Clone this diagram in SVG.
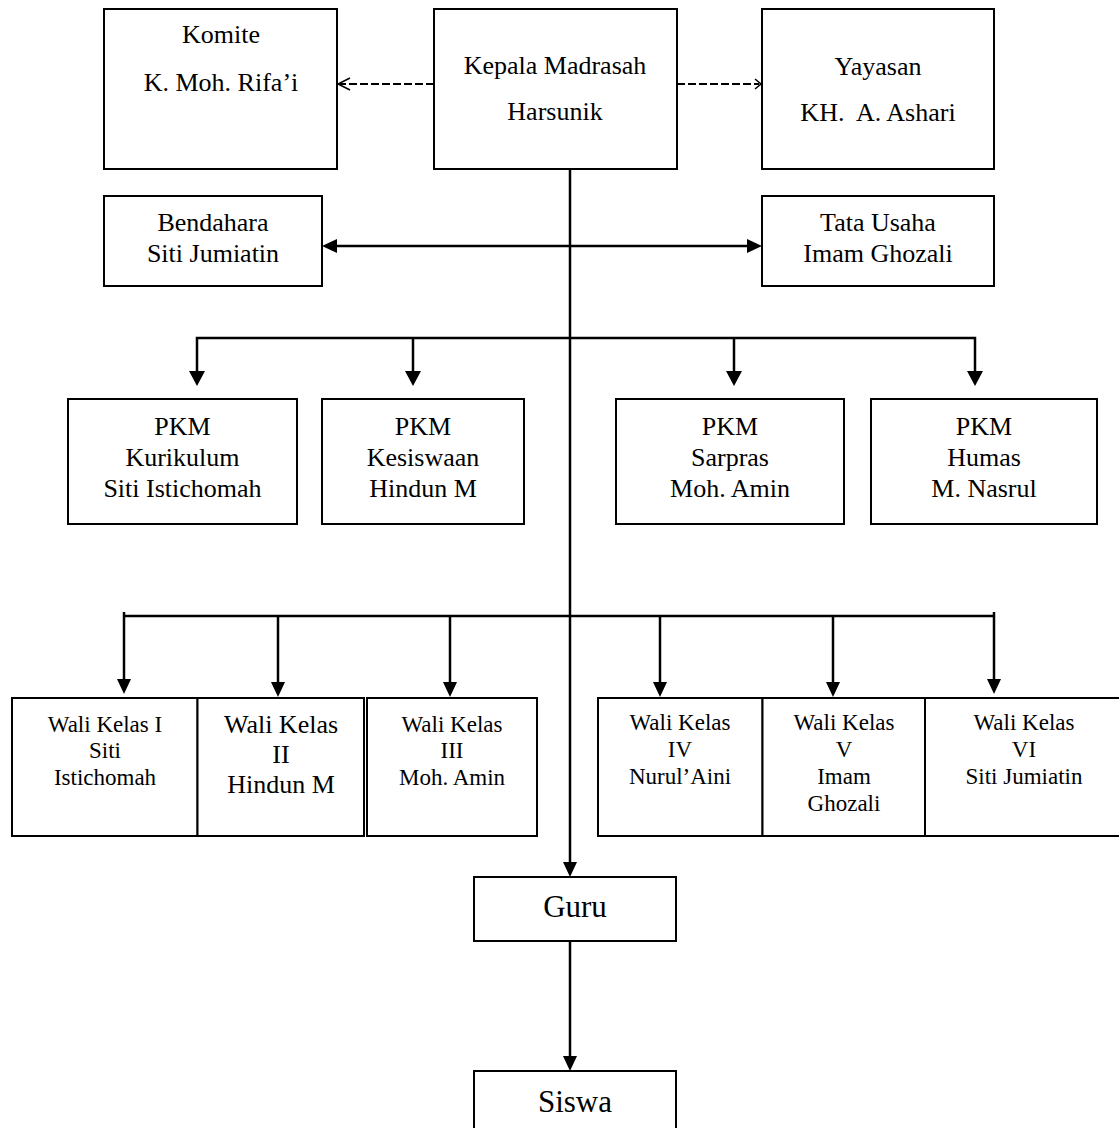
<svg xmlns="http://www.w3.org/2000/svg" width="1119" height="1128" viewBox="0 0 1119 1128">
<style>
.box{fill:#fff;stroke:#000;stroke-width:2}
text{font-family:"Liberation Serif","Times New Roman",serif;fill:#000;text-anchor:middle;white-space:pre}
.t26{font-size:26px}
.t23{font-size:23px}
.t31{font-size:31px}
.ln{fill:none;stroke:#000;stroke-width:2.5}
.dash{fill:none;stroke:#000;stroke-width:2;stroke-dasharray:8 3}
.ah{fill:#000;stroke:none}
.open{fill:none;stroke:#000;stroke-width:1.5}
</style>
<rect width="1119" height="1128" fill="#fff"/>
<g id="connectors">
  <!-- dashed links -->
  <line class="dash" x1="434" y1="84" x2="340" y2="84"/>
  <polyline class="open" points="350,78 338,84 350,90"/>
  <line class="dash" x1="677" y1="84" x2="759" y2="84"/>
  <polyline class="open" points="755,79 761,84 755,89"/>
  <!-- main trunk -->
  <line class="ln" x1="570" y1="169" x2="570" y2="863"/>
  <polygon class="ah" points="563,862 577,862 570,877"/>
  <!-- Bendahara / Tata Usaha -->
  <line class="ln" x1="336" y1="246" x2="748" y2="246"/>
  <polygon class="ah" points="337,239 337,253 322,246"/>
  <polygon class="ah" points="747,239 747,253 762,246"/>
  <!-- PKM bus -->
  <polyline class="ln" points="197,372 197,338 975,338 975,372"/>
  <line class="ln" x1="413" y1="338" x2="413" y2="372"/>
  <line class="ln" x1="734" y1="338" x2="734" y2="372"/>
  <polygon class="ah" points="189,371 205,371 197,386"/>
  <polygon class="ah" points="405,371 421,371 413,386"/>
  <polygon class="ah" points="726,371 742,371 734,386"/>
  <polygon class="ah" points="967,371 983,371 975,386"/>
  <!-- Wali bus -->
  <polyline class="ln" points="124,680 124,612"/>
  <line class="ln" x1="124" y1="616" x2="994" y2="616"/>
  <polyline class="ln" points="994,612 994,680"/>
  <line class="ln" x1="278" y1="616" x2="278" y2="683"/>
  <line class="ln" x1="450" y1="616" x2="450" y2="683"/>
  <line class="ln" x1="660" y1="616" x2="660" y2="683"/>
  <line class="ln" x1="833" y1="616" x2="833" y2="683"/>
  <polygon class="ah" points="117,679 131,679 124,694"/>
  <polygon class="ah" points="271,682 285,682 278,697"/>
  <polygon class="ah" points="443,682 457,682 450,697"/>
  <polygon class="ah" points="653,682 667,682 660,697"/>
  <polygon class="ah" points="826,682 840,682 833,697"/>
  <polygon class="ah" points="987,679 1001,679 994,694"/>
  <!-- Guru to Siswa -->
  <line class="ln" x1="570" y1="941" x2="570" y2="1057"/>
  <polygon class="ah" points="563,1056 577,1056 570,1071"/>
</g>
<g id="komite">
  <rect class="box" x="104" y="9" width="233" height="160"/>
  <text class="t26" x="221" y="43">Komite</text>
  <text class="t26" x="221" y="91">K. Moh. Rifa’i</text>
</g>
<g id="kepala">
  <rect class="box" x="434" y="9" width="243" height="160"/>
  <text class="t26" x="555" y="74">Kepala Madrasah</text>
  <text class="t26" x="555" y="120">Harsunik</text>
</g>
<g id="yayasan">
  <rect class="box" x="762" y="9" width="232" height="160"/>
  <text class="t26" x="878" y="75">Yayasan</text>
  <text class="t26" x="878" y="121">KH.  A. Ashari</text>
</g>
<g id="bendahara">
  <rect class="box" x="104" y="196" width="218" height="90"/>
  <text class="t26" x="213" y="231">Bendahara</text>
  <text class="t26" x="213" y="262">Siti Jumiatin</text>
</g>
<g id="tatausaha">
  <rect class="box" x="762" y="196" width="232" height="90"/>
  <text class="t26" x="878" y="231">Tata Usaha</text>
  <text class="t26" x="878" y="262">Imam Ghozali</text>
</g>
<g id="pkm-kurikulum">
  <rect class="box" x="68" y="399" width="229" height="125"/>
  <text class="t26" x="182.5" y="435">PKM</text>
  <text class="t26" x="182.5" y="466">Kurikulum</text>
  <text class="t26" x="182.5" y="497">Siti Istichomah</text>
</g>
<g id="pkm-kesiswaan">
  <rect class="box" x="322" y="399" width="202" height="125"/>
  <text class="t26" x="423" y="435">PKM</text>
  <text class="t26" x="423" y="466">Kesiswaan</text>
  <text class="t26" x="423" y="497">Hindun M</text>
</g>
<g id="pkm-sarpras">
  <rect class="box" x="616" y="399" width="228" height="125"/>
  <text class="t26" x="730" y="435">PKM</text>
  <text class="t26" x="730" y="466">Sarpras</text>
  <text class="t26" x="730" y="497">Moh. Amin</text>
</g>
<g id="pkm-humas">
  <rect class="box" x="871" y="399" width="226" height="125"/>
  <text class="t26" x="984" y="435">PKM</text>
  <text class="t26" x="984" y="466">Humas</text>
  <text class="t26" x="984" y="497">M. Nasrul</text>
</g>
<g id="wali-1">
  <rect class="box" x="12" y="698" width="185.5" height="138"/>
  <text class="t23" x="105" y="732">Wali Kelas I</text>
  <text class="t23" x="105" y="758">Siti</text>
  <text class="t23" x="105" y="785">Istichomah</text>
</g>
<g id="wali-2">
  <rect class="box" x="197.5" y="698" width="166.5" height="138"/>
  <text class="t26" x="281" y="733">Wali Kelas</text>
  <text class="t26" x="281" y="763">II</text>
  <text class="t26" x="281" y="793">Hindun M</text>
</g>
<g id="wali-3">
  <rect class="box" x="367" y="698" width="170" height="138"/>
  <text class="t23" x="452" y="732">Wali Kelas</text>
  <text class="t23" x="452" y="758">III</text>
  <text class="t23" x="452" y="785">Moh. Amin</text>
</g>
<g id="wali-4">
  <rect class="box" x="598" y="698" width="164.5" height="138"/>
  <text class="t23" x="680" y="730">Wali Kelas</text>
  <text class="t23" x="680" y="757">IV</text>
  <text class="t23" x="680" y="784">Nurul’Aini</text>
</g>
<g id="wali-5">
  <rect class="box" x="762.5" y="698" width="162.5" height="138"/>
  <text class="t23" x="844" y="730">Wali Kelas</text>
  <text class="t23" x="844" y="757">V</text>
  <text class="t23" x="844" y="784">Imam</text>
  <text class="t23" x="844" y="811">Ghozali</text>
</g>
<g id="wali-6">
  <rect class="box" x="925" y="698" width="200" height="138"/>
  <text class="t23" x="1024" y="730">Wali Kelas</text>
  <text class="t23" x="1024" y="757">VI</text>
  <text class="t23" x="1024" y="784">Siti Jumiatin</text>
</g>
<g id="guru">
  <rect class="box" x="474" y="877" width="202" height="64"/>
  <text class="t31" x="575" y="917">Guru</text>
</g>
<g id="siswa">
  <rect class="box" x="474" y="1071" width="202" height="70"/>
  <text class="t31" x="575" y="1112">Siswa</text>
</g>
</svg>
